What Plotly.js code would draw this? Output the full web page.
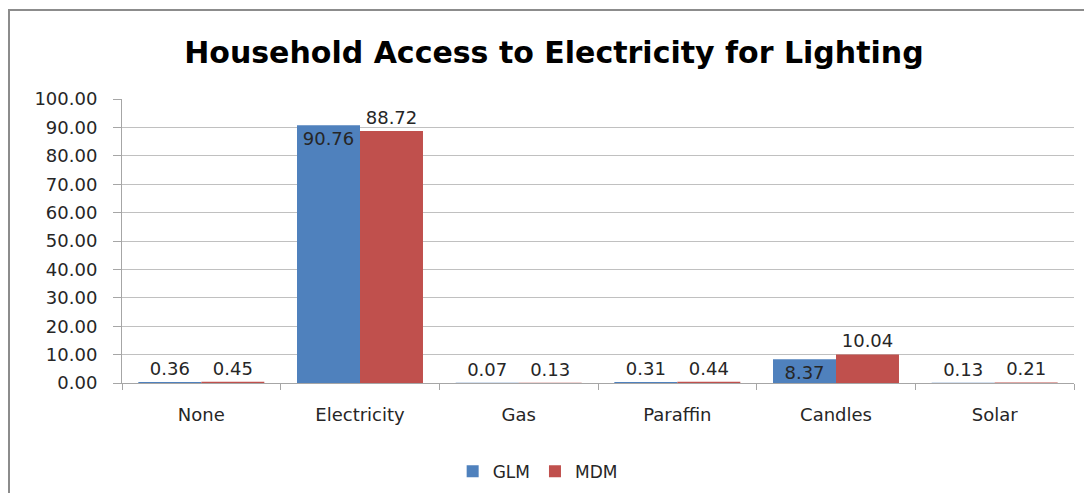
<!DOCTYPE html>
<html>
<head>
<meta charset="utf-8">
<script src="https://cdn.plot.ly/plotly-3.0.1.min.js"></script>
<style>
  html, body { margin: 0; padding: 0; background: #fff; overflow: hidden; }
  #wrap { position: relative; width: 1084px; height: 493px; }
  #chart { position: absolute; left: 0; top: 0; width: 1084px; height: 493px; }
  #frame { position: absolute; left: 8px; top: 9px; width: 1200px; height: 600px;
           border-left: 2px solid #8c8c8c; border-top: 2px solid #8c8c8c; pointer-events: none; }
</style>
</head>
<body>
<div id="wrap">
  <div id="chart"></div>
  <div id="frame"></div>
</div>
<script>
const categories = ["None", "Electricity", "Gas", "Paraffin", "Candles", "Solar"];
const glmValues = [0.36, 90.76, 0.07, 0.31, 8.37, 0.13];
const mdmValues = [0.45, 88.72, 0.13, 0.44, 10.04, 0.21];
const yTickValues = [0, 10, 20, 30, 40, 50, 60, 70, 80, 90, 100];

const FONT = "DejaVu Sans, Verdana, sans-serif";
const labelFont = { family: FONT, size: 18, color: "#262626" };

const traces = [
  {
    type: "bar", name: "GLM", x: categories, y: glmValues,
    marker: { color: "#4F81BD" },
    texttemplate: "%{y:.2f}",
    textposition: ["outside", "inside", "outside", "outside", "inside", "outside"],
    insidetextanchor: "end",
    constraintext: "none",
    textfont: labelFont, insidetextfont: labelFont, outsidetextfont: labelFont,
    cliponaxis: false, hoverinfo: "skip"
  },
  {
    type: "bar", name: "MDM", x: categories, y: mdmValues,
    marker: { color: "#C0504D" },
    texttemplate: "%{y:.2f}",
    textposition: "outside",
    constraintext: "none",
    textfont: labelFont, outsidetextfont: labelFont,
    cliponaxis: false, hoverinfo: "skip"
  }
];

const layout = {
  width: 1084, height: 493,
  margin: { l: 122, r: 10, t: 99, b: 110, autoexpand: false },
  paper_bgcolor: "rgba(0,0,0,0)",
  plot_bgcolor: "rgba(0,0,0,0)",
  barmode: "group",
  bargap: 0.206,
  bargroupgap: 0,
  title: {
    text: "Household Access to Electricity for Lighting",
    font: { family: FONT, size: 30, color: "#000", weight: "bold" },
    x: 0.511, xanchor: "center", y: 0.894, yanchor: "middle", yref: "container"
  },
  xaxis: {
    type: "category",
    automargin: false,
    showgrid: false,
    showline: true, linecolor: "#a6a6a6", linewidth: 1,
    ticks: "outside", tickson: "boundaries", ticklen: 6, tickcolor: "#a6a6a6",
    ticklabelstandoff: 15,
    tickfont: { family: FONT, size: 18, color: "#262626" },
    fixedrange: true
  },
  yaxis: {
    automargin: false,
    range: [0, 100],
    tickvals: yTickValues,
    tickformat: ".2f",
    showgrid: true, gridcolor: "#c0c0c0", gridwidth: 1,
    showline: true, linecolor: "#a6a6a6", linewidth: 1,
    ticks: "outside", ticklen: 8, tickcolor: "#a6a6a6",
    ticklabelstandoff: 12,
    tickfont: { family: FONT, size: 18, color: "#262626" },
    zeroline: false,
    fixedrange: true
  },
  showlegend: true,
  legend: {
    orientation: "h",
    xref: "container", x: 0.496, xanchor: "center",
    yref: "container", y: 0.043, yanchor: "middle",
    font: { family: FONT, size: 17, color: "#262626" },
    itemwidth: 30,
    tracegroupgap: 0
  }
};

Plotly.newPlot("chart", traces, layout, { displayModeBar: false, staticPlot: true });
</script>
</body>
</html>
